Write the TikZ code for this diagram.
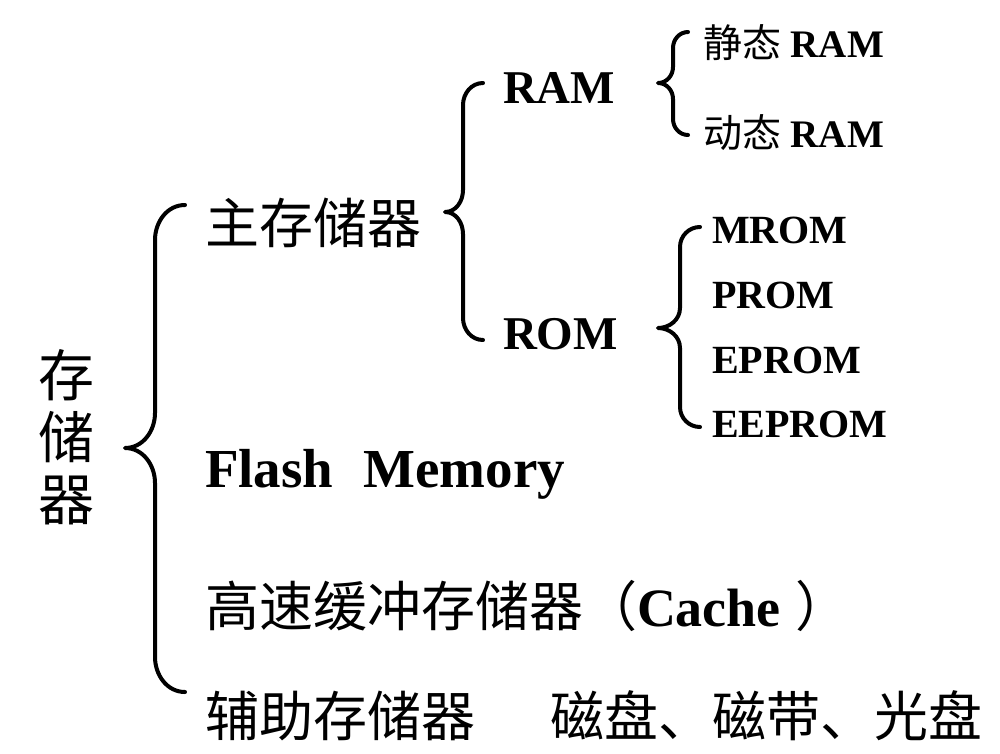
\documentclass[tikz,border=0pt]{standalone}
\usepackage{fontspec}
\setmainfont{Liberation Serif}
\newfontfamily\cjk{Noto Sans CJK SC}
\newcommand{\drawbrace}[7]{%
  \draw[bracestyle] (#1,#4) to[out=180,in=90] (#2,#4+#7) -- (#2,#5-#7)
    to[out=-90,in=0] (#3,#5) to[out=0,in=90] (#2,#5+#7) -- (#2,#6-#7)
    to[out=-90,in=180] (#1,#6);}
\begin{document}
\begin{tikzpicture}[x=1pt,y=-1pt,
  lbl/.style={inner sep=0pt, outer sep=0pt, anchor=base west, text=black},
  bracestyle/.style={line width=4pt, line cap=round, line join=round, black}]
\useasboundingbox[fill=white] (0,0) rectangle (1000,753);

% braces
\drawbrace{185}{155}{125}{205}{448}{692}{35}
\drawbrace{483}{463}{445}{83}{212}{340}{22}
\drawbrace{688}{673}{658}{32}{83}{135}{16}
\drawbrace{700}{680}{658}{227}{328}{427}{20}

% root
\node[lbl, anchor=center, align=center, font=\cjk\fontsize{56}{62}\selectfont] (root) at (66,437) {存\\储\\器};

% level 1
\node[lbl, font=\cjk\fontsize{54}{60}\selectfont] (main) at (205,243) {主存储器};
\node[lbl, font=\bfseries\fontsize{55}{60}\selectfont] (flash) at (205,487) {Flash\hspace{0.55em}Memory};
\node[lbl, font=\fontsize{54}{60}\selectfont] (cache) at (205,626) {{\cjk 高速缓冲存储器（}\textbf{Cache}\hspace{15pt}{\cjk ）}};
\node[lbl, font=\cjk\fontsize{54}{60}\selectfont] (aux) at (205,736) {辅助存储器};
\node[lbl, font=\cjk\fontsize{54}{60}\selectfont] (auxdev) at (550,736) {磁盘、磁带、光盘};

% level 2
\node[lbl, font=\bfseries\fontsize{47}{50}\selectfont] (ram) at (503,103) {RAM};
\node[lbl, font=\bfseries\fontsize{47}{50}\selectfont] (rom) at (503,349) {ROM};

% level 3
\node[lbl, font=\bfseries\fontsize{39}{44}\selectfont] (sram) at (703,57) {{\cjk\mdseries 静态} RAM};
\node[lbl, font=\bfseries\fontsize{39}{44}\selectfont] (dram) at (703,147) {{\cjk\mdseries 动态} RAM};
\node[lbl, font=\bfseries\fontsize{40}{44}\selectfont] (mrom) at (712,243) {MROM};
\node[lbl, font=\bfseries\fontsize{40}{44}\selectfont] (prom) at (712,308) {PROM};
\node[lbl, font=\bfseries\fontsize{40}{44}\selectfont] (eprom) at (712,373) {EPROM};
\node[lbl, font=\bfseries\fontsize{40}{44}\selectfont] (eeprom) at (712,437) {EEPROM};
\end{tikzpicture}
\end{document}
